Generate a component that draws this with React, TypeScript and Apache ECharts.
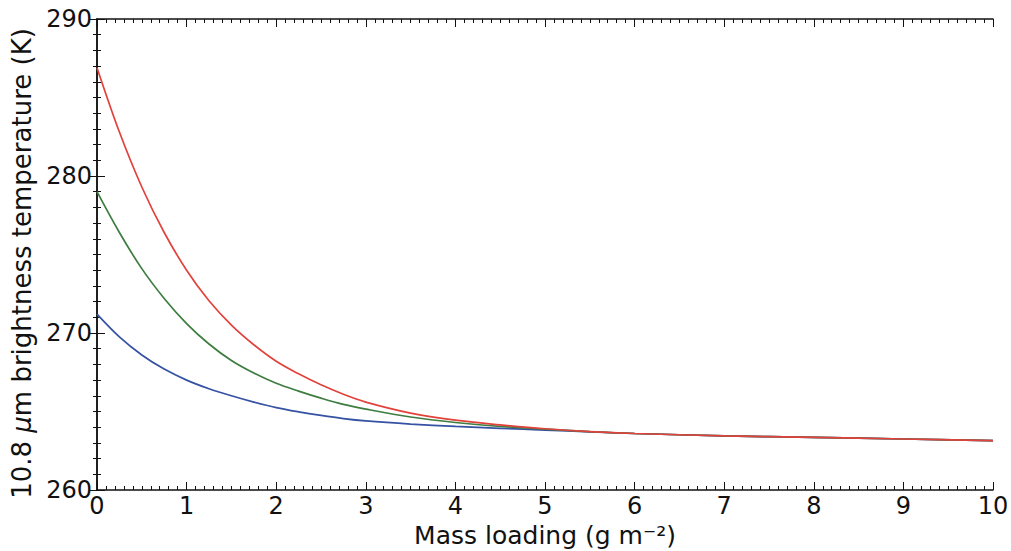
import React, { useEffect, useRef } from "react";
import * as echarts from "echarts";

const massLoading = [0, 0.25, 0.5, 0.75, 1, 1.25, 1.5, 1.75, 2, 2.25, 2.5, 2.75, 3, 3.5, 4, 4.5, 5, 5.5, 6, 7, 8, 9, 10];
const redTemps = [286.9, 282.8, 279.3, 276.4, 274.0, 272.05, 270.5, 269.25, 268.2, 267.4, 266.7, 266.1, 265.6, 264.9, 264.45, 264.15, 263.9, 263.72, 263.6, 263.45, 263.35, 263.25, 263.15];
const greenTemps = [279.0, 276.4, 274.1, 272.2, 270.6, 269.3, 268.25, 267.45, 266.8, 266.3, 265.85, 265.45, 265.15, 264.65, 264.3, 264.05, 263.88, 263.72, 263.6, 263.45, 263.35, 263.25, 263.15];
const blueTemps = [271.2, 269.75, 268.6, 267.7, 267.0, 266.45, 266.0, 265.6, 265.25, 264.98, 264.75, 264.55, 264.4, 264.2, 264.05, 263.93, 263.82, 263.7, 263.6, 263.45, 263.35, 263.25, 263.15];
const xTicks = [0, 1, 2, 3, 4, 5, 6, 7, 8, 9, 10];
const yTicks = [260, 270, 280, 290];

const FONT = "DejaVu Sans";

function pairs(ys: number[]) {
  return massLoading.map((x, i) => [x, ys[i]]);
}

export default function App() {
  const ref = useRef<HTMLDivElement>(null);
  useEffect(() => {
    document.body.style.margin = "0";
    if (!ref.current) return;
    const chart = echarts.init(ref.current, null, { renderer: "svg" });
    const tickCommon = {
      axisLine: { show: true, lineStyle: { color: "#111", width: 1.5 } },
      axisTick: { show: true, inside: true, length: 8, lineStyle: { color: "#111", width: 1 } },
      minorTick: { show: true, splitNumber: 10, length: 4, lineStyle: { color: "#111", width: 1 } },
      splitLine: { show: false },
      minorSplitLine: { show: false },
    };
    const lineSeries = (ys: number[], color: string) => ({
      type: "line",
      data: pairs(ys),
      showSymbol: false,
      smooth: 0.35,
      lineStyle: { color, width: 1.7 },
      itemStyle: { color },
    });
    chart.setOption({
      animation: false,
      backgroundColor: "#fff",
      grid: { left: 97, right: 18, top: 19, bottom: 61, containLabel: false, outerBoundsMode: "none" },
      xAxis: [
        {
          type: "value",
          min: xTicks[0],
          max: xTicks[xTicks.length - 1],
          interval: 1,
          position: "bottom",
          ...tickCommon,
          axisLabel: { color: "#111", fontFamily: FONT, fontSize: 24, margin: 4 },
          name: "Mass loading (g m⁻²)",
          nameLocation: "middle",
          nameGap: 32,
          nameTextStyle: { color: "#111", fontFamily: FONT, fontSize: 25 },
        },
        {
          type: "value",
          min: xTicks[0],
          max: xTicks[xTicks.length - 1],
          interval: 1,
          position: "top",
          ...tickCommon,
          axisLabel: { show: false },
        },
      ],
      yAxis: [
        {
          type: "value",
          min: yTicks[0],
          max: yTicks[yTicks.length - 1],
          interval: 10,
          position: "left",
          ...tickCommon,
          axisLabel: { color: "#111", fontFamily: FONT, fontSize: 24, margin: 5 },
          name: "10.8 {i|μ}m brightness temperature (K)",
          nameLocation: "middle",
          nameGap: 58,
          nameTextStyle: {
            color: "#111",
            fontFamily: FONT,
            fontSize: 26,
            padding: [0, 18, 0, 0],
            rich: { i: { fontStyle: "italic", fontFamily: FONT, fontSize: 26, color: "#111" } },
          },
        },
        {
          type: "value",
          min: yTicks[0],
          max: yTicks[yTicks.length - 1],
          interval: 10,
          position: "right",
          ...tickCommon,
          axisLabel: { show: false },
        },
      ],
      series: [
        lineSeries(blueTemps, "#3552a3"),
        lineSeries(greenTemps, "#3d7d3f"),
        lineSeries(redTemps, "#e2423c"),
      ],
    });
    return () => chart.dispose();
  }, []);
  return <div ref={ref} style={{ width: 1011, height: 551 }} />;
}
